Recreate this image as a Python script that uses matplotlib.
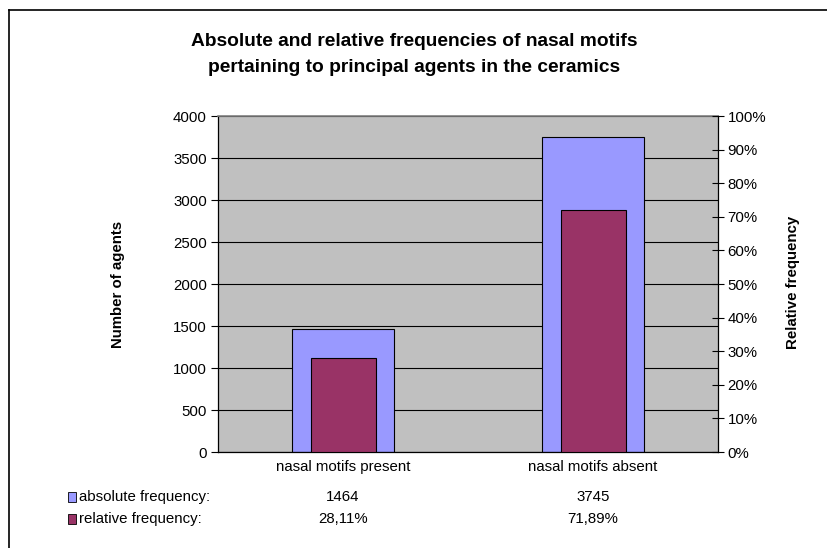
import matplotlib
matplotlib.use("Agg")
import matplotlib.pyplot as plt
from matplotlib.patches import Rectangle
from matplotlib.lines import Line2D
import matplotlib.transforms as mtransforms

plt.rcParams['font.family'] = ['Liberation Sans', 'DejaVu Sans']

categories = ["nasal motifs present", "nasal motifs absent"]
absolute_freq = [1464, 3745]
relative_freq = [28.11, 71.89]
absolute_labels = ["1464", "3745"]
relative_labels = ["28,11%", "71,89%"]
left_ticks = [0, 500, 1000, 1500, 2000, 2500, 3000, 3500, 4000]
right_ticks = [0, 10, 20, 30, 40, 50, 60, 70, 80, 90, 100]
title_lines = ["Absolute and relative frequencies of nasal motifs",
               "pertaining to principal agents in the ceramics"]

W, H = 828, 548
fig = plt.figure(figsize=(W / 100, H / 100), dpi=100)
fig.patch.set_facecolor('white')

def fx(px):
    return px / W

def fy(py):
    return 1 - py / H

FS = 10.8

# outer frame (top and left edges visible)
fig.add_artist(Line2D([fx(9), fx(828)], [fy(10), fy(10)], color='black', lw=1.2, transform=fig.transFigure))
fig.add_artist(Line2D([fx(9), fx(9)], [fy(10), fy(548)], color='black', lw=1.2, transform=fig.transFigure))

pl, pr, pt, pb = 218, 718, 116, 452
ax = fig.add_axes([fx(pl), fy(pb), fx(pr - pl), (pb - pt) / H])
ax.set_facecolor('#C0C0C0')
x = [0, 1]
ax.set_xlim(-0.5, 1.5)
ax.set_ylim(0, 4000)
ax.set_axisbelow(True)
ax.yaxis.grid(True, color='black', lw=0.8)
ax.bar(x, absolute_freq, width=0.41, color='#9999FF', edgecolor='black', lw=0.8, zorder=2)
ax.set_yticks(left_ticks)
ax.set_yticklabels([str(t) for t in left_ticks], fontsize=FS)
ax.set_xticks([])
ax.tick_params(axis='y', direction='out', length=5, width=0.8, pad=3)
ax.spines['top'].set_color('#808080')
ax.spines['top'].set_lw(1.2)
ax.spines['right'].set_visible(False)
ax.spines['left'].set_lw(0.9)
ax.spines['bottom'].set_lw(0.9)

ax2 = ax.twinx()
ax2.set_ylim(0, 100)
ax2.bar(x, relative_freq, width=0.26, color='#993366', edgecolor='black', lw=0.8, zorder=3)
ax2.set_yticks(right_ticks)
ax2.set_yticklabels([f"{t}%" for t in right_ticks], fontsize=FS)
ax2.tick_params(axis='y', direction='inout', length=8, width=0.8, pad=3)
for s in ['top', 'left', 'bottom']:
    ax2.spines[s].set_visible(False)
ax2.spines['right'].set_lw(0.9)
ax2.set_xlim(-0.5, 1.5)

for yy, line in zip([42, 67], title_lines):
    fig.text(fx(414), fy(yy), line, ha='center', va='center', fontsize=13.8, fontweight='bold')
fig.text(fx(118), fy(284), "Number of agents", rotation=90, ha='center', va='center', fontsize=FS, fontweight='bold')
fig.text(fx(793), fy(282), "Relative frequency", rotation=90, ha='center', va='center', fontsize=FS, fontweight='bold')

# data table
trans = mtransforms.blended_transform_factory(ax.transData, fig.transFigure)
for i, c in enumerate(categories):
    fig.text(x[i], fy(467), c, transform=trans, ha='center', va='center', fontsize=FS)
    fig.text(x[i], fy(497), absolute_labels[i], transform=trans, ha='center', va='center', fontsize=FS)
    fig.text(x[i], fy(519), relative_labels[i], transform=trans, ha='center', va='center', fontsize=FS)

for yy, col, lab in [(497, '#9999FF', "absolute frequency:"), (519, '#993366', "relative frequency:")]:
    fig.add_artist(Rectangle((fx(68), fy(yy + 5)), 8 / W, 10 / H, facecolor=col, edgecolor='black', lw=0.6, transform=fig.transFigure))
    fig.text(fx(79), fy(yy), lab, ha='left', va='center', fontsize=FS)

fig.savefig('out.png', dpi=100)
